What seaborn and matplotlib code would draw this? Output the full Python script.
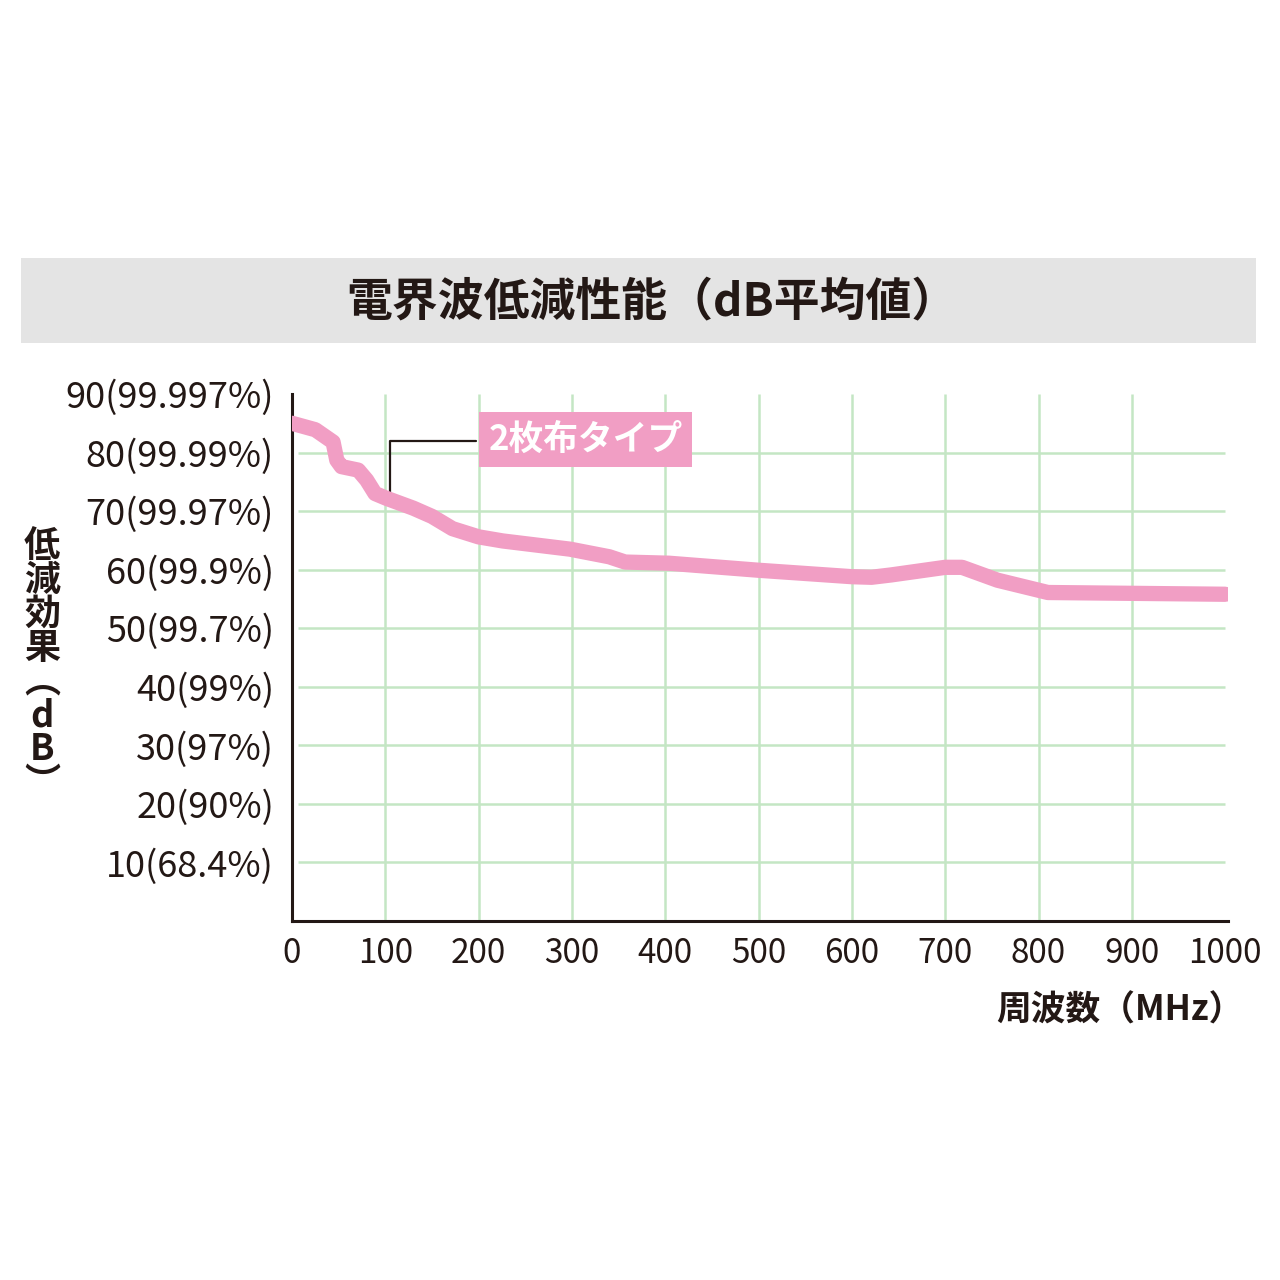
import matplotlib
matplotlib.use("Agg")
import matplotlib.pyplot as plt
import seaborn as sns
from matplotlib.patches import Rectangle

# data
freq_mhz = [0, 25, 44, 48, 53, 71, 80, 89, 101, 130, 150, 172, 200, 226, 298,
            340, 357, 404, 500, 600, 621, 642, 700, 718, 756, 810, 1000]
atten_db = [85.0, 83.9, 81.8, 78.7, 77.6, 77.0, 75.3, 73.0, 72.2, 70.5, 69.1,
            67.0, 65.6, 64.9, 63.5, 62.2, 61.3, 61.1, 59.9, 58.8, 58.7, 59.1,
            60.4, 60.4, 58.2, 56.1, 55.8]

y_ticks = [10, 20, 30, 40, 50, 60, 70, 80, 90]
y_tick_labels = ["10(68.4%)", "20(90%)", "30(97%)", "40(99%)", "50(99.7%)",
                 "60(99.9%)", "70(99.97%)", "80(99.99%)", "90(99.997%)"]
x_ticks = [0, 100, 200, 300, 400, 500, 600, 700, 800, 900, 1000]

title = "電界波低減性能（dB平均値）"
x_label = "周波数（MHz）"
y_label = "低\n減\n効\n果\n︵\nd\nB\n︶"
series_label = "2枚布タイプ"

PINK = "#f19ec4"
GRID = "#c4e6c4"
INK = "#231815"

sns.set_theme(style="white")
plt.rcParams["font.family"] = ["Noto Sans CJK JP", "DejaVu Sans"]

fig = plt.figure(figsize=(12.8, 12.8), dpi=100)
ax = fig.add_axes([292 / 1280, 1 - 921 / 1280, 936 / 1280, (921 - 394) / 1280])

# grid
ax.vlines(x_ticks[1:-1], 0, 90, color=GRID, lw=1.8, zorder=1)
ax.hlines(y_ticks[:-1], 6, 1000, color=GRID, lw=1.8, zorder=1)

sns.lineplot(x=freq_mhz, y=atten_db, ax=ax, color=PINK, lw=11,
             solid_capstyle="round", zorder=3)

ax.set_xlim(0, 1003)
ax.set_ylim(0, 90)
ax.set_xticks(x_ticks)
ax.set_xticklabels([str(t) for t in x_ticks], fontsize=24, color=INK)
ax.set_yticks(y_ticks)
ax.set_yticklabels(y_tick_labels, fontsize=26, color=INK)
ax.tick_params(axis="both", length=0)
ax.tick_params(axis="y", pad=13)
ax.tick_params(axis="x", pad=11)
ax.set_xlabel("")
ax.set_ylabel("")
for s in ["top", "right"]:
    ax.spines[s].set_visible(False)
for s in ["left", "bottom"]:
    ax.spines[s].set_color(INK)
    ax.spines[s].set_linewidth(2.2)

# series label with leader line
ax.plot([104.7, 104.7, 197], [72.4, 82.0, 82.0], color=INK, lw=1.6, zorder=2)
ax.text(314.6, 82.2, series_label, ha="center", va="center", fontsize=25,
        fontweight="bold", color="white", zorder=4,
        bbox=dict(boxstyle="square,pad=0.28", fc=PINK, ec="none"))

# title band
fig.patches.append(Rectangle((21 / 1280, 1 - 343 / 1280), 1235 / 1280, 85 / 1280,
                             transform=fig.transFigure, fc="#e4e4e4", ec="none"))
fig.text(652 / 1280, 1 - 302 / 1280, title, ha="center", va="center",
         fontsize=33, fontweight="bold", color=INK)

fig.text(1244 / 1280, 1 - 1010 / 1280, x_label, ha="right", va="center",
         fontsize=25, fontweight="bold", color=INK)
fig.text(42 / 1280, 1 - 665 / 1280, y_label, ha="center", va="center",
         fontsize=26, fontweight="bold", color=INK, linespacing=0.89)

fig.savefig("out.png", dpi=100, facecolor="white")
